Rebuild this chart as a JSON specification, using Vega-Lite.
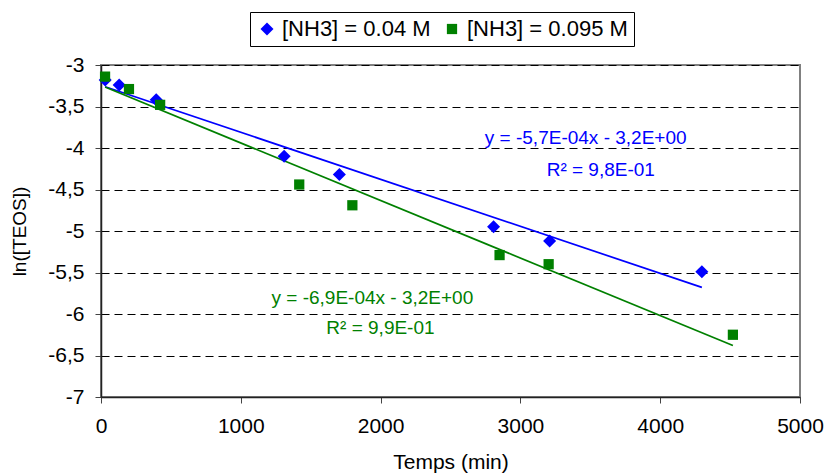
{
  "$schema": "https://vega.github.io/schema/vega-lite/v6.json",
  "width": 699,
  "height": 332,
  "autosize": {"type": "none"},
  "padding": {"left": 101, "top": 65, "right": 25, "bottom": 76},
  "background": "white",
  "config": {
    "font": "Liberation Sans",
    "view": {"stroke": "#808080", "strokeWidth": 2},
    "axis": {"labelFont": "Liberation Sans", "titleFont": "Liberation Sans", "labelColor": "black", "titleColor": "black", "titleFontWeight": "normal", "domainColor": "#222", "tickColor": "#444", "domainWidth": 1.5}
  },
  "datasets": {
    "pts": [
      {"temps": 30, "ln": -3.18, "series": "[NH3] = 0.04 M"},
      {"temps": 130, "ln": -3.24, "series": "[NH3] = 0.04 M"},
      {"temps": 395, "ln": -3.42, "series": "[NH3] = 0.04 M"},
      {"temps": 1310, "ln": -4.10, "series": "[NH3] = 0.04 M"},
      {"temps": 1705, "ln": -4.32, "series": "[NH3] = 0.04 M"},
      {"temps": 2808, "ln": -4.95, "series": "[NH3] = 0.04 M"},
      {"temps": 3209, "ln": -5.12, "series": "[NH3] = 0.04 M"},
      {"temps": 4298, "ln": -5.49, "series": "[NH3] = 0.04 M"},
      {"temps": 29, "ln": -3.14, "series": "[NH3] = 0.095 M"},
      {"temps": 200, "ln": -3.29, "series": "[NH3] = 0.095 M"},
      {"temps": 423, "ln": -3.48, "series": "[NH3] = 0.095 M"},
      {"temps": 1418, "ln": -4.44, "series": "[NH3] = 0.095 M"},
      {"temps": 1798, "ln": -4.69, "series": "[NH3] = 0.095 M"},
      {"temps": 2851, "ln": -5.29, "series": "[NH3] = 0.095 M"},
      {"temps": 3202, "ln": -5.40, "series": "[NH3] = 0.095 M"},
      {"temps": 4520, "ln": -6.25, "series": "[NH3] = 0.095 M"}
    ],
    "notes": [
      {"temps": 3467, "ln": -3.88, "label": "y = -5,7E-04x - 3,2E+00", "c": "blue"},
      {"temps": 3575, "ln": -4.27, "label": "R² = 9,8E-01", "c": "blue"},
      {"temps": 1941, "ln": -5.81, "label": "y = -6,9E-04x - 3,2E+00", "c": "green"},
      {"temps": 1999, "ln": -6.17, "label": "R² = 9,9E-01", "c": "green"}
    ]
  },
  "encoding": {
    "x": {"field": "temps", "type": "quantitative",
      "scale": {"domain": [0, 5000], "nice": false, "zero": false},
      "axis": {"title": "Temps (min)", "values": [0, 1000, 2000, 3000, 4000, 5000], "format": "d", "grid": false,
        "labelFontSize": 21, "titleFontSize": 21, "tickSize": 6, "labelPadding": 12, "titlePadding": 15, "labelFlush": false}},
    "y": {"field": "ln", "type": "quantitative",
      "scale": {"domain": [-7, -3], "nice": false, "zero": false},
      "axis": {"title": "ln([TEOS])", "values": [-7, -6.5, -6, -5.5, -5, -4.5, -4, -3.5, -3], "format": ".1~f",
        "labelExpr": "replace(replace(datum.label, '.', ','), '\u2212', '-')",
        "grid": true, "gridColor": "black", "gridDash": [8, 5], "gridWidth": 1,
        "labelFontSize": 21, "titleFontSize": 19, "tickSize": 6, "labelPadding": 11, "titlePadding": 18}}
  },
  "layer": [
    {
      "data": {"name": "pts"},
      "transform": [{"regression": "ln", "on": "temps", "groupby": ["series"]}],
      "mark": {"type": "line", "strokeWidth": 1.7},
      "encoding": {
        "color": {"field": "series", "type": "nominal",
          "scale": {"domain": ["[NH3] = 0.04 M", "[NH3] = 0.095 M"], "range": ["#0000FF", "#008000"]},
          "legend": {"title": null, "orient": "none", "legendX": 149, "legendY": -53, "direction": "horizontal",
            "strokeColor": "black", "padding": 6, "labelFontSize": 22, "labelLimit": 400, "symbolSize": 90, "columnPadding": 10, "labelOffset": 4, "symbolStrokeWidth": 0, "symbolType": "square"}}
      }
    },
    {
      "data": {"name": "pts"},
      "mark": {"type": "point", "filled": true, "opacity": 1},
      "encoding": {
        "color": {"field": "series", "type": "nominal"},
        "shape": {"field": "series", "type": "nominal",
          "scale": {"domain": ["[NH3] = 0.04 M", "[NH3] = 0.095 M"], "range": ["diamond", "square"]}},
        "size": {"field": "series", "type": "nominal", "legend": null,
          "scale": {"domain": ["[NH3] = 0.04 M", "[NH3] = 0.095 M"], "range": [170, 105]}}
      }
    },
    {
      "data": {"name": "notes"},
      "mark": {"type": "text", "fontSize": 19, "align": "center", "baseline": "middle"},
      "encoding": {
        "text": {"field": "label"},
        "color": {"field": "c", "type": "nominal", "scale": null}
      }
    }
  ]
}
